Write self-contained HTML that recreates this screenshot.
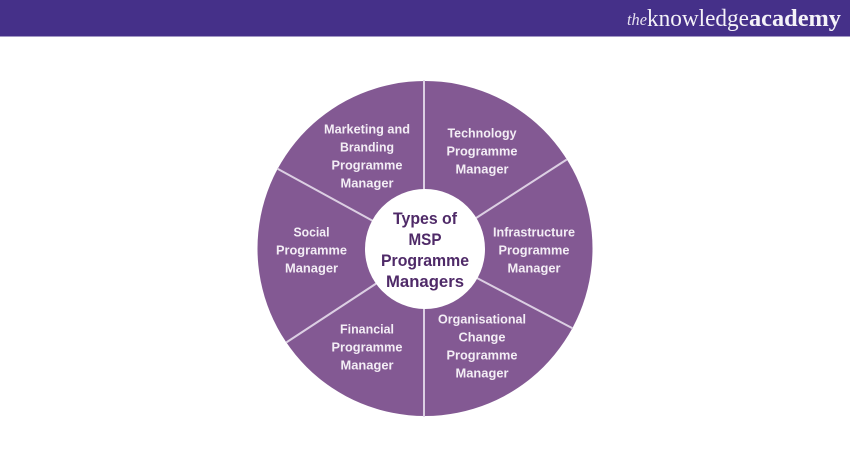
<!DOCTYPE html>
<html><head><meta charset="utf-8"><style>
html,body{margin:0;padding:0;background:#fff}
svg{display:block}
text{font-family:"Liberation Sans",sans-serif;text-anchor:middle;font-weight:700}
.w{fill:#f3edf5;font-size:12.5px}
.c{fill:#4f2a68;font-size:16.5px}
</style></head><body>
<svg width="850" height="450" viewBox="0 0 850 450" xmlns="http://www.w3.org/2000/svg">
<rect width="850" height="450" fill="#fff"/>
<rect width="850" height="36.5" fill="#453089"/>
<text x="637" y="25" style="font-family:'Liberation Serif',serif;font-style:italic;font-weight:400;font-size:17px" fill="#e6e1f0" textLength="20" lengthAdjust="spacingAndGlyphs">the</text>
<text x="698" y="26" style="font-family:'Liberation Serif',serif;font-weight:400;font-size:24px" fill="#f4f2f8" textLength="102" lengthAdjust="spacingAndGlyphs">knowledge</text>
<text x="795" y="26" style="font-family:'Liberation Serif',serif;font-weight:700;font-size:24px" fill="#f4f2f8" textLength="92" lengthAdjust="spacingAndGlyphs">academy</text>
<circle cx="425" cy="248.5" r="167.5" fill="#835993"/>
<g stroke="#dccfe3" stroke-width="2" stroke-linecap="round">
<line x1="424" y1="81" x2="424" y2="192"/>
<line x1="424" y1="306" x2="424" y2="416"/>
<line x1="278" y1="169" x2="373" y2="221"/>
<line x1="566" y1="160" x2="473" y2="220"/>
<line x1="287" y1="342" x2="377" y2="283"/>
<line x1="572" y1="328" x2="475" y2="277"/>
</g>
<circle cx="425" cy="249" r="60" fill="#fff"/>
<g class="w">
<text x="367" y="133.500" class="w" textLength="86" lengthAdjust="spacingAndGlyphs">Marketing and</text>
<text x="367" y="151.500" class="w" textLength="54" lengthAdjust="spacingAndGlyphs">Branding</text>
<text x="367" y="169.500" class="w" textLength="71" lengthAdjust="spacingAndGlyphs">Programme</text>
<text x="367" y="187.500" class="w" textLength="53" lengthAdjust="spacingAndGlyphs">Manager</text>
<text x="482" y="137.500" class="w" textLength="69" lengthAdjust="spacingAndGlyphs">Technology</text>
<text x="482" y="155.500" class="w" textLength="71" lengthAdjust="spacingAndGlyphs">Programme</text>
<text x="482" y="173.500" class="w" textLength="53" lengthAdjust="spacingAndGlyphs">Manager</text>
<text x="534" y="236.500" class="w" textLength="82" lengthAdjust="spacingAndGlyphs">Infrastructure</text>
<text x="534" y="254.500" class="w" textLength="71" lengthAdjust="spacingAndGlyphs">Programme</text>
<text x="534" y="272.500" class="w" textLength="53" lengthAdjust="spacingAndGlyphs">Manager</text>
<text x="311.500" y="236.500" class="w" textLength="36" lengthAdjust="spacingAndGlyphs">Social</text>
<text x="311.500" y="254.500" class="w" textLength="71" lengthAdjust="spacingAndGlyphs">Programme</text>
<text x="311.500" y="272.500" class="w" textLength="53" lengthAdjust="spacingAndGlyphs">Manager</text>
<text x="367" y="333.500" class="w" textLength="54" lengthAdjust="spacingAndGlyphs">Financial</text>
<text x="367" y="351.500" class="w" textLength="71" lengthAdjust="spacingAndGlyphs">Programme</text>
<text x="367" y="369.500" class="w" textLength="53" lengthAdjust="spacingAndGlyphs">Manager</text>
<text x="482" y="323.500" class="w" textLength="88" lengthAdjust="spacingAndGlyphs">Organisational</text>
<text x="482" y="341.500" class="w" textLength="47" lengthAdjust="spacingAndGlyphs">Change</text>
<text x="482" y="359.500" class="w" textLength="71" lengthAdjust="spacingAndGlyphs">Programme</text>
<text x="482" y="377.500" class="w" textLength="53" lengthAdjust="spacingAndGlyphs">Manager</text>
</g>
<text x="425" y="224" class="c" textLength="64" lengthAdjust="spacingAndGlyphs">Types of</text>
<text x="425" y="245" class="c" textLength="33" lengthAdjust="spacingAndGlyphs">MSP</text>
<text x="425" y="266" class="c" textLength="88" lengthAdjust="spacingAndGlyphs">Programme</text>
<text x="425" y="287" class="c" textLength="78" lengthAdjust="spacingAndGlyphs">Managers</text>
</svg>
</body></html>
